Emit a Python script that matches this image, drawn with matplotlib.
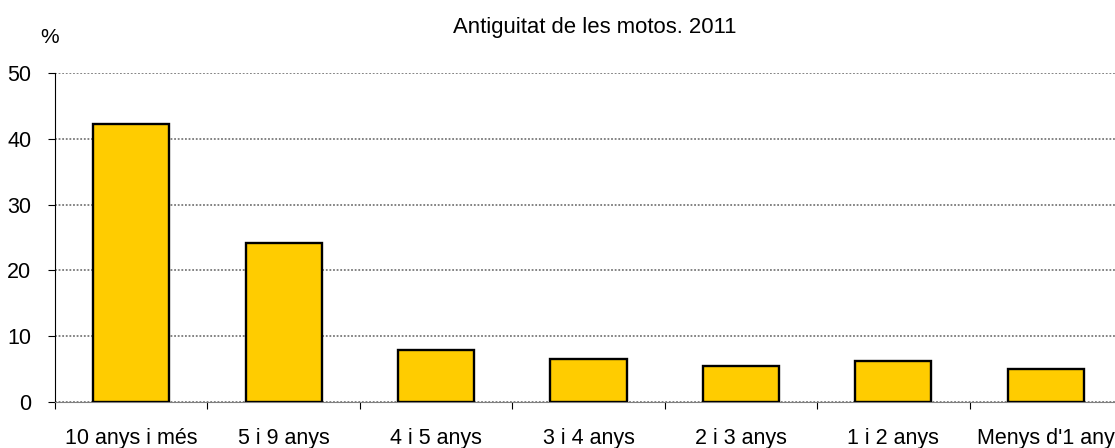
import matplotlib
matplotlib.use("Agg")
import matplotlib.pyplot as plt
import numpy as np

categories = ["10 anys i més", "5 i 9 anys", "4 i 5 anys", "3 i 4 anys",
              "2 i 3 anys", "1 i 2 anys", "Menys d'1 any"]
values = [42.2, 24.1, 7.9, 6.6, 5.4, 6.2, 5.0]
yticks = [0, 10, 20, 30, 40, 50]

plt.rcParams['font.family'] = ['Liberation Sans', 'DejaVu Sans']

W, H = 1115, 448
fig = plt.figure(figsize=(W / 100, H / 100), dpi=100)
left, right, top, bottom = 55, 1122, 73, 402
ax = fig.add_axes([left / W, (H - bottom) / H, (right - left) / W, (bottom - top) / H])

x = np.arange(len(categories))
ax.bar(x, values, width=0.5, color='#FFCC00', edgecolor='black', linewidth=1.7, zorder=3)

ax.set_xlim(-0.5, len(categories) - 0.5)
ax.set_ylim(0, 50)
ax.set_yticks(yticks)
ax.yaxis.grid(True, color='#7a7a7a', linestyle=(0, (1, 1)), linewidth=1.3, zorder=0)
ax.set_axisbelow(True)

ax.set_xticks(x)
ax.set_xticklabels(categories, fontsize=15.5)
ax.set_xticks(np.arange(len(categories) + 1) - 0.5, minor=True)
ax.tick_params(axis='x', which='major', length=0, pad=19)
ax.tick_params(axis='x', which='minor', length=5, color='black', width=0.8)
ax.tick_params(axis='y', labelsize=15.5, length=5, width=0.8, pad=12)

for s in ['top', 'right']:
    ax.spines[s].set_visible(False)
ax.spines['left'].set_linewidth(0.8)
ax.spines['bottom'].set_linewidth(0.8)
ax.spines['bottom'].set_color('#808080')

fig.text(595 / W, 1 - 33 / H, "Antiguitat de les motos. 2011", ha='center', va='baseline', fontsize=15.9)
fig.text(49.5 / W, 1 - 37.5 / H, "%", ha='center', va='center', fontsize=15)

fig.savefig("out.png", dpi=100)
